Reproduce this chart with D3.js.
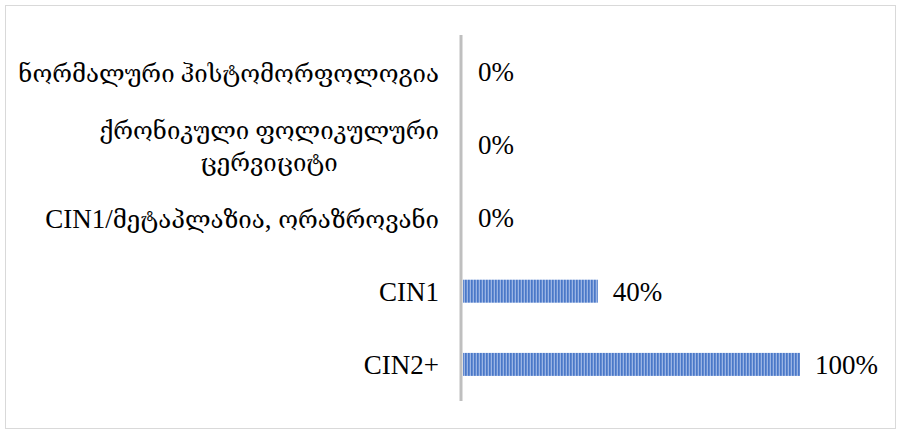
<!DOCTYPE html>
<html><head><meta charset="utf-8">
<script src="https://cdn.jsdelivr.net/npm/d3@7"></script>
<style>body{margin:0;background:#fff}svg{display:block}</style>
</head><body>
<svg id="c" width="897" height="430"></svg>
<script>
const categories = [
  ["ნორმალური ჰისტომორფოლოგია"],
  ["ქრონიკული ფოლიკულური", "ცერვიციტი"],
  ["CIN1/მეტაპლაზია, ორაზროვანი"],
  ["CIN1"],
  ["CIN2+"]
];
const values = [0, 0, 0, 40, 100];
const valueLabels = ["0%", "0%", "0%", "40%", "100%"];

const svg = d3.select("#c");
const font = "'Liberation Serif','DejaVu Serif',serif";
const latinSize = 27, geoSize = 24;
svg.append("rect").attr("x", 5.5).attr("y", 5.5).attr("width", 890).attr("height", 423)
  .attr("fill", "#fff").attr("stroke", "#d9d9d9").attr("stroke-width", 1);

const defs = svg.append("defs");
const pat = defs.append("pattern").attr("id", "stripes").attr("patternUnits", "userSpaceOnUse")
  .attr("width", 3).attr("height", 10);
pat.append("rect").attr("width", 3).attr("height", 10).attr("fill", "#9ab4e4");
pat.append("rect").attr("width", 1.7).attr("height", 10).attr("fill", "#4a78c8");

const idx = d3.range(categories.length);
const y = d3.scaleBand().domain(idx).range([35, 401]).paddingInner(0.686).paddingOuter(0.343);
const x = d3.scaleLinear().domain([0, 100]).range([463, 800]);

svg.append("g").selectAll("rect").data(idx).join("rect")
  .attr("x", x(0)).attr("y", i => y(i)).attr("width", i => x(values[i]) - x(0))
  .attr("height", y.bandwidth()).attr("fill", "url(#stripes)");

svg.append("line").attr("x1", 461).attr("x2", 461).attr("y1", 35).attr("y2", 401)
  .attr("stroke", "#bfbfbf").attr("stroke-width", 3);

svg.append("g").selectAll("text").data(idx).join("text")
  .attr("x", i => x(values[i]) + 15)
  .attr("y", i => y(i) + y.bandwidth() / 2)
  .attr("dy", "0.35em")
  .attr("font-family", font).attr("font-size", latinSize).attr("fill", "#000")
  .text(i => valueLabels[i]);

function runs(s) {
  const out = [];
  for (const ch of s) {
    const g = /[\u10A0-\u10FF]/.test(ch) || (ch === " " && out.length && out[out.length-1].g);
    if (out.length && out[out.length - 1].g === g) out[out.length - 1].t += ch;
    else out.push({ g, t: ch });
  }
  return out;
}

const lg = svg.append("g");
idx.forEach(i => {
  const lines = categories[i];
  const cy = y(i) + y.bandwidth() / 2;
  const lh = 32;
  const t0 = cy - (lines.length - 1) * lh / 2;
  let w0 = null;
  lines.forEach((ln, j) => {
    const t = lg.append("text").attr("font-family", font).attr("font-size", latinSize).attr("fill", "#000")
      .attr("y", t0 + j * lh + 10);
    runs(ln).forEach(r => t.append("tspan").attr("font-size", r.g ? geoSize : latinSize).text(r.t));
    if (j === 0) { t.attr("x", 439).attr("text-anchor", "end"); w0 = t.node().getComputedTextLength(); }
    else { t.attr("x", 439 - w0 / 2).attr("text-anchor", "middle"); }
  });
});
</script>
</body></html>
